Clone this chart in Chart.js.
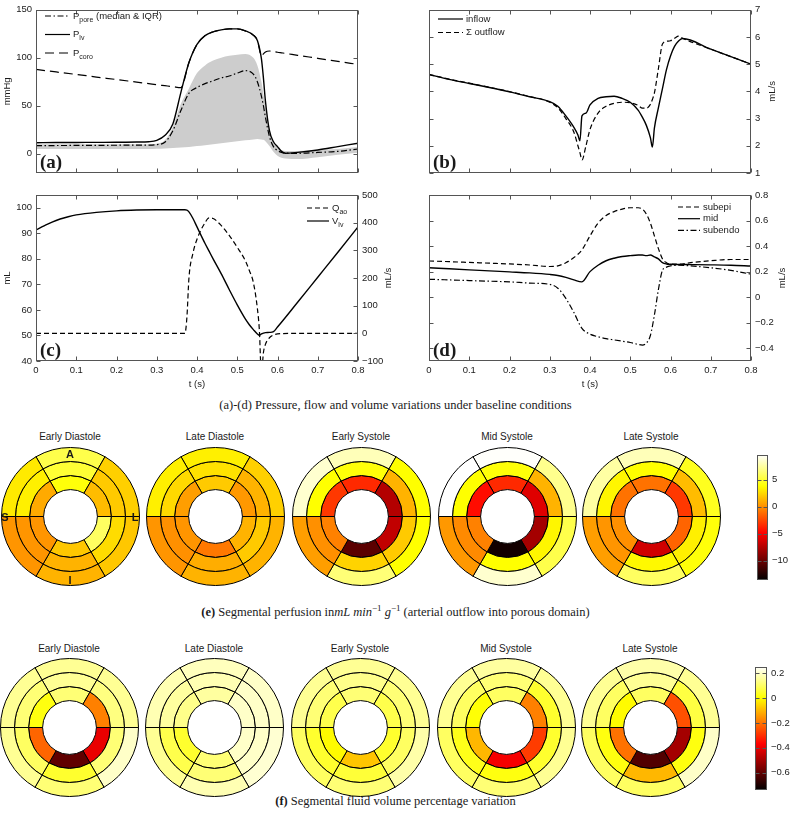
<!DOCTYPE html>
<html>
<head>
<meta charset="utf-8">
<title>Coronary perfusion figure</title>
<script src="https://cdn.jsdelivr.net/npm/chart.js@4.4.1/dist/chart.umd.min.js"></script>
<style>
  body { margin: 0; background: #fff; }
  #fig { position: relative; width: 791px; height: 822px; overflow: hidden; font-family: "Liberation Sans", Arial, sans-serif; color: #1a1a1a; }
  #fig canvas { position: absolute; }
  .cap { position: absolute; left: 0; width: 791px; text-align: center; font-family: "Liberation Serif", "Times New Roman", serif; font-size: 12.5px; line-height: 14px; }
  .cap sup { font-size: 9px; vertical-align: 5px; line-height: 0; }
  .ttl { position: absolute; width: 140px; text-align: center; font-size: 10px; line-height: 12px; }
  .lbl { position: absolute; font-size: 11px; font-weight: bold; line-height: 12px; transform: translate(-50%, -50%); }
</style>
</head>
<body>
<div id="fig">
  <canvas id="ca" width="395" height="185" style="left:0;top:0"></canvas>
  <canvas id="cb" width="396" height="185" style="left:395px;top:0"></canvas>
  <canvas id="cc" width="395" height="205" style="left:0;top:185px"></canvas>
  <canvas id="cd" width="396" height="205" style="left:395px;top:185px"></canvas>
  <div class="cap" style="top:398px">(a)-(d) Pressure, flow and volume variations under baseline conditions</div>
  <div class="cap" style="top:605px"><b>(e)</b> Segmental perfusion in<i>mL min</i><sup>−1</sup> <i>g</i><sup>−1</sup> (arterial outflow into porous domain)</div>
  <div class="cap" style="top:794px"><b>(f)</b> Segmental fluid volume percentage variation</div>
</div>
<script>
// ---- (a) pressures, mmHg
const tA = [0, 0.05, 0.1, 0.15, 0.2, 0.25, 0.28, 0.3, 0.32, 0.34, 0.36, 0.38, 0.4, 0.42, 0.44, 0.46, 0.48, 0.5, 0.52, 0.54, 0.55, 0.56, 0.565, 0.57, 0.58, 0.59, 0.6, 0.61, 0.62, 0.65, 0.7, 0.75, 0.8];
const pLv = [11.5, 11.7, 11.8, 11.9, 12, 12.2, 12.6, 14, 19, 31, 64, 95, 114, 123, 127, 129, 130, 130, 128, 123.5, 118, 99, 79, 55, 24, 12.5, 7.5, 2.5, 0.5, 1.5, 4, 7.5, 11];
const pPore = [8.5, 8.6, 8.7, 8.8, 8.9, 9, 9, 9.5, 12, 24, 45, 63, 69, 73, 76, 79, 81, 84, 86.5, 83, 75, 60, 50, 38, 18, 7.5, 3.4, 1.5, 0.7, 0.5, 1.4, 2.5, 5];
const pPoreLo = [5, 5, 5, 5, 5, 5, 5, 5.2, 5.5, 6, 6.5, 7, 8, 9, 10, 11, 12, 13, 14, 15, 15.5, 15, 14.5, 13, 8, 2, -2, -4, -5, -5.5, -3.5, -1, 1];
const pPoreHi = [10, 10, 10, 10, 10, 10, 10, 10.5, 14, 28, 52, 68, 84, 92, 97, 100, 102, 103, 104, 100, 92, 75, 62, 50, 25, 12, 7, 4, 3, 3, 4, 5, 7];
const pCoro = [87.8, 85.2, 82.6, 79.9, 77.3, 74.6, 73, 71.9, 70.9, 69.9, 68.8, 95, 114, 123, 127, 129, 130, 130, 128, 123.5, 118, 102, 104, 106, 107, 106.5, 105.7, 105.1, 104.5, 102.5, 99.4, 96.2, 93];

// ---- (b) coronary flows, mL/s
const tB = [0, 0.05, 0.1, 0.15, 0.2, 0.25, 0.3, 0.32, 0.34, 0.36, 0.37, 0.375, 0.38, 0.39, 0.4, 0.42, 0.44, 0.46, 0.48, 0.5, 0.52, 0.53, 0.54, 0.55, 0.555, 0.56, 0.57, 0.58, 0.59, 0.6, 0.61, 0.62, 0.63, 0.7, 0.8];
const inflow = [4.62, 4.44, 4.29, 4.14, 3.98, 3.8, 3.62, 3.45, 3.1, 2.68, 2.4, 2.18, 3.1, 3.2, 3.5, 3.74, 3.8, 3.82, 3.74, 3.6, 3.3, 3.05, 2.75, 2.3, 1.95, 2.65, 3.4, 4.1, 4.8, 5.3, 5.65, 5.85, 5.94, 5.55, 5.0];
const outflow = [4.62, 4.45, 4.3, 4.15, 3.99, 3.81, 3.6, 3.4, 3.0, 2.5, 2.0, 1.75, 1.48, 2.0, 2.6, 3.2, 3.45, 3.56, 3.6, 3.58, 3.48, 3.38, 3.38, 3.52, 3.7, 3.94, 4.84, 5.74, 5.84, 5.86, 5.95, 6.03, 5.95, 5.55, 5.0];

// ---- (c) LV volume (mL) and aortic flow (mL/s)
const tC = [0, 0.02, 0.04, 0.06, 0.08, 0.1, 0.15, 0.2, 0.25, 0.3, 0.35, 0.37, 0.375, 0.38, 0.39, 0.4, 0.42, 0.43, 0.44, 0.46, 0.48, 0.5, 0.52, 0.53, 0.54, 0.55, 0.555, 0.56, 0.565, 0.57, 0.58, 0.59, 0.6, 0.65, 0.7, 0.75, 0.8];
const vLv = [91.3, 92.9, 94.4, 95.6, 96.5, 97.2, 98.2, 98.8, 99.1, 99.2, 99.2, 99.2, 99.1, 98.4, 95.8, 92.5, 86, 83, 80, 74.2, 68, 62, 56.5, 54.2, 52.3, 50.6, 50.1, 50.6, 50.9, 51.1, 51.2, 51.5, 53.3, 63, 72.8, 82.6, 92.5];
const qAo = [0, 0, 0, 0, 0, 0, 0, 0, 0, 0, 0, 0, 60, 200, 290, 340, 400, 417, 415, 390, 354, 311, 263, 227, 184, 90, 10, -150, -70, -40, -16, -6, -2, 0, 0, 0, 0];

// ---- (d) layer flows, mL/s
const tD = [0, 0.05, 0.1, 0.15, 0.2, 0.25, 0.3, 0.32, 0.34, 0.36, 0.38, 0.4, 0.42, 0.44, 0.46, 0.48, 0.5, 0.52, 0.53, 0.54, 0.55, 0.56, 0.57, 0.58, 0.59, 0.6, 0.62, 0.65, 0.7, 0.75, 0.8];
const subepi = [0.283, 0.278, 0.272, 0.266, 0.26, 0.252, 0.24, 0.245, 0.27, 0.31, 0.37, 0.48, 0.58, 0.64, 0.67, 0.69, 0.7, 0.7, 0.69, 0.65, 0.58, 0.48, 0.38, 0.3, 0.27, 0.258, 0.258, 0.27, 0.285, 0.295, 0.295];
const midLayer = [0.23, 0.222, 0.214, 0.206, 0.198, 0.19, 0.178, 0.17, 0.155, 0.135, 0.12, 0.2, 0.25, 0.285, 0.305, 0.318, 0.325, 0.33, 0.33, 0.325, 0.33, 0.315, 0.3, 0.27, 0.26, 0.258, 0.256, 0.255, 0.253, 0.25, 0.244];
const subendo = [0.14, 0.135, 0.13, 0.125, 0.12, 0.11, 0.1, 0.07, -0.01, -0.12, -0.245, -0.29, -0.31, -0.325, -0.335, -0.345, -0.355, -0.37, -0.375, -0.36, -0.3, -0.14, 0.06, 0.21, 0.235, 0.245, 0.25, 0.245, 0.23, 0.21, 0.18];

// ---- tick labels
const tTicks = [0, 0.1, 0.2, 0.3, 0.4, 0.5, 0.6, 0.7, 0.8];
const aTicks = [0, 50, 100, 150];
const bTicks = [1, 2, 3, 4, 5, 6, 7];
const cTicksL = [40, 50, 60, 70, 80, 90, 100];
const cTicksR = [-100, 0, 100, 200, 300, 400, 500];
const dTicks = [-0.4, -0.2, 0, 0.2, 0.4, 0.6, 0.8];

// ---- bull's-eye maps: rings outer, mid, inner; segments clockwise from anterior (top)
const phases = ['Early Diastole', 'Late Diastole', 'Early Systole', 'Mid Systole', 'Late Systole'];
const perfRange = [-13.6, 9.6];
const perfTicks = [5, 0, -5, -10];
const perfEarlyDia = [[5.5, 2.2, 1.9, 1.2, 0.2, 3.1], [5.0, 2.0, 2.6, 1.2, 0.2, 3.3], [4.0, 1.5, 6.0, 1.9, 0.2, 0.9]];
const perfLateDia = [[3.3, 2.2, 1.2, 1.2, 0.2, 3.3], [2.8, 1.2, 2.0, 1.0, 0.0, 2.5], [2.0, 0.3, 1.2, -0.8, 0.2, 0.5]];
const perfEarlySys = [[8.0, 3.8, 3.8, 6.5, 0.5, 8.5], [4.0, 1.2, 2.0, 2.3, 0.0, 3.8], [-3.5, -7.5, -7.0, -10.5, -0.5, -3.0]];
const perfMidSys = [[9.5, 7.0, 5.5, 8.5, 0.3, 9.6], [4.0, 1.2, 3.5, 3.8, -0.2, 3.8], [-3.5, -6.0, -8.0, -13.0, -0.5, -4.5]];
const perfLateSys = [[8.0, 4.5, 4.0, 6.0, 0.5, 7.5], [3.8, 1.5, 3.3, 3.6, 0.2, 3.5], [-1.0, -3.0, -1.5, -6.5, 0.0, -1.0]];

const volRange = [-0.74, 0.254];
const volTicks = [0.2, 0, -0.2, -0.4, -0.6];
const volEarlyDia = [[0.15, 0.15, 0.2, 0.12, 0.15, 0.15], [0.15, 0.13, 0.12, 0.05, 0.1, 0.12], [0.12, -0.18, -0.4, -0.6, -0.22, 0.02]];
const volLateDia = [[0.19, 0.2, 0.21, 0.18, 0.15, 0.18], [0.18, 0.2, 0.2, 0.12, 0.08, 0.16], [0.16, 0.2, 0.2, 0.12, 0.05, 0.14]];
const volEarlySys = [[0.15, 0.15, 0.17, 0.12, 0.1, 0.15], [0.14, 0.12, 0.1, 0.06, 0.05, 0.12], [0.12, 0.08, 0.05, -0.08, 0.0, 0.08]];
const volMidSys = [[0.16, 0.15, 0.15, 0.12, 0.1, 0.15], [0.12, 0.05, 0.05, 0.02, 0.03, 0.1], [0.1, -0.18, -0.28, -0.38, -0.1, 0.01]];
const volLateSys = [[0.17, 0.15, 0.2, 0.1, 0.1, 0.15], [0.15, 0.07, 0.02, -0.1, 0.02, 0.1], [0.1, -0.25, -0.5, -0.62, -0.2, 0.0]];

const INK = '#1a1a1a';
const SANS = '"Liberation Sans", Arial, sans-serif';
const FONT = { family: SANS, size: 9.5 };
const DASH = [5, 3];
const LONGDASH = [9, 5];
const DASHDOT = [6, 2.5, 1.5, 2.5];

function xy(t, v) { return t.map((x, i) => ({ x: x, y: v[i] })); }
function fmt(v) { return String(Math.round(v * 100) / 100).replace('-', '\u2212'); }
function fixed(list) { return s => { s.ticks = list.map(v => ({ value: v })); }; }

function timeAxis(labels, h) {
  return {
    type: 'linear', min: 0, max: 0.8, afterBuildTicks: fixed(tTicks),
    grid: { display: false, drawTicks: false }, border: { display: false },
    ticks: { display: labels, font: FONT, color: INK, padding: 4, callback: fmt, maxRotation: 0, autoSkip: false },
    title: { display: labels, text: 't (s)', font: FONT, color: INK, padding: 0 },
    afterFit: s => { s.height = h; }
  };
}
function valueAxis(pos, min, max, list, w, title) {
  return {
    type: 'linear', position: pos, min: min, max: max, afterBuildTicks: fixed(list),
    grid: { display: false, drawTicks: false }, border: { display: false },
    ticks: { font: FONT, color: INK, padding: 4, callback: fmt, autoSkip: false },
    title: { display: !!title, text: title || '', font: FONT, color: INK, padding: { top: 2, bottom: 0 } },
    afterFit: s => { s.width = w; }
  };
}

// box, inward ticks, legend, panel tag, right-hand axis title
const frame = {
  id: 'frame',
  afterDraw(chart, args, o) {
    const ctx = chart.ctx, a = chart.chartArea;
    const L = 4;
    const seg = (x1, y1, x2, y2) => { ctx.beginPath(); ctx.moveTo(x1, y1); ctx.lineTo(x2, y2); ctx.stroke(); };
    ctx.save();
    ctx.strokeStyle = '#555';
    ctx.lineWidth = 1;
    const l = Math.round(a.left) + 0.5, r = Math.round(a.right) - 0.5, t = Math.round(a.top) + 0.5, b = Math.round(a.bottom) - 0.5;
    ctx.strokeRect(l, t, r - l, b - t);
    if (!o.noX) {
      const xs = chart.scales.x;
      xs.ticks.forEach(tk => {
        const px = Math.round(xs.getPixelForValue(tk.value)) + 0.5;
        seg(px, b, px, b - L); seg(px, t, px, t + L);
      });
    }
    const ys = Object.values(chart.scales).filter(s => s.axis === 'y');
    ys.forEach(s => {
      const sides = ys.length > 1 ? [s.position] : ['left', 'right'];
      s.ticks.forEach(tk => {
        const py = Math.round(s.getPixelForValue(tk.value)) + 0.5;
        sides.forEach(side => side === 'left' ? seg(l, py, l + L, py) : seg(r, py, r - L, py));
      });
    });
    ctx.fillStyle = INK;
    if (o.rightTitle) {
      ctx.save();
      ctx.translate(o.rightTitle.x, (a.top + a.bottom) / 2);
      ctx.rotate(-Math.PI / 2);
      ctx.font = '9.5px ' + SANS;
      ctx.textAlign = 'center'; ctx.textBaseline = 'middle';
      ctx.fillText(o.rightTitle.text, 0, 0);
      ctx.restore();
    }
    if (o.legend) {
      const g = o.legend;
      ctx.strokeStyle = '#000';
      ctx.lineWidth = 1.2;
      ctx.textBaseline = 'middle';
      g.items.forEach((it, i) => {
        const y = g.y + i * g.dy;
        ctx.setLineDash(it.dash || []);
        seg(g.x, y, g.x + g.len, y);
        ctx.setLineDash([]);
        let x = g.x + g.len + 3;
        ctx.font = '9.5px ' + SANS;
        ctx.fillText(it.main, x, y);
        x += ctx.measureText(it.main).width;
        if (it.sub) {
          ctx.font = '7px ' + SANS;
          ctx.fillText(it.sub, x, y + 4);
          x += ctx.measureText(it.sub).width;
        }
        if (it.tail) {
          ctx.font = '9.5px ' + SANS;
          ctx.fillText(it.tail, x, y);
        }
      });
    }
    if (o.tag) {
      ctx.font = 'bold 19px "Liberation Serif", "Times New Roman", serif';
      ctx.textBaseline = 'alphabetic';
      ctx.fillText(o.tag, a.left + 4, a.bottom - 5);
    }
    ctx.restore();
  }
};

function lineChart(id, datasets, scales, pad, frameOpts) {
  return new Chart(document.getElementById(id), {
    type: 'line',
    data: { datasets: datasets },
    options: {
      responsive: false, animation: false, events: [],
      layout: { padding: pad },
      elements: { point: { radius: 0 }, line: { cubicInterpolationMode: 'monotone', borderWidth: 1.2, fill: false } },
      scales: scales,
      plugins: { legend: { display: false }, tooltip: { enabled: false }, frame: frameOpts }
    },
    plugins: [frame]
  });
}

// (a)
lineChart('ca', [
  { data: xy(tA, pPore), borderColor: '#000', borderDash: DASHDOT, order: 1 },
  { data: xy(tA, pLv), borderColor: '#000', borderWidth: 1.4, order: 2 },
  { data: xy(tA, pCoro), borderColor: '#000', borderDash: LONGDASH, order: 3 },
  { data: xy(tA, pPoreLo), borderWidth: 0, borderColor: 'rgba(0,0,0,0)', order: 10 },
  { data: xy(tA, pPoreHi), borderWidth: 0, borderColor: 'rgba(0,0,0,0)', backgroundColor: '#cdcdcd', fill: '-1', order: 9 }
], {
  x: timeAxis(false, 12),
  y: valueAxis('left', -20, 150, aTicks, 36, 'mmHg')
}, { top: 7, right: 37, bottom: 0, left: 0 }, {
  tag: '(a)',
  legend: { x: 45, y: 16, dy: 18.5, len: 25, items: [
    { main: 'P', sub: 'pore', tail: ' (median & IQR)', dash: DASHDOT },
    { main: 'P', sub: 'lv' },
    { main: 'P', sub: 'coro', dash: LONGDASH }
  ] }
});

// (b)
lineChart('cb', [
  { data: xy(tB, inflow), borderColor: '#000', borderWidth: 1.4 },
  { data: xy(tB, outflow), borderColor: '#000', borderDash: DASH }
], {
  x: timeAxis(false, 12),
  y: valueAxis('right', 1, 7, bTicks, 40)
}, { top: 7, right: 0, bottom: 0, left: 34 }, {
  tag: '(b)',
  rightTitle: { text: 'mL/s', x: 377 },
  legend: { x: 43, y: 19, dy: 13.5, len: 25, items: [
    { main: 'inflow' },
    { main: '\u03A3 outflow', dash: DASH }
  ] }
});

// (c)
lineChart('cc', [
  { data: xy(tC, qAo), borderColor: '#000', borderDash: DASH, yAxisID: 'y2' },
  { data: xy(tC, vLv), borderColor: '#000', borderWidth: 1.4, yAxisID: 'y' }
], {
  x: timeAxis(true, 29),
  y: valueAxis('left', 40, 105, cTicksL, 36, 'mL'),
  y2: valueAxis('right', -100, 500, cTicksR, 37)
}, { top: 10, right: 0, bottom: 0, left: 0 }, {
  tag: '(c)',
  rightTitle: { text: 'mL/s', x: 388 },
  legend: { x: 307, y: 23, dy: 13, len: 22, items: [
    { main: 'Q', sub: 'ao', dash: DASH },
    { main: 'V', sub: 'lv' }
  ] }
});

// (d)
lineChart('cd', [
  { data: xy(tD, subepi), borderColor: '#000', borderDash: DASH },
  { data: xy(tD, midLayer), borderColor: '#000', borderWidth: 1.4 },
  { data: xy(tD, subendo), borderColor: '#000', borderDash: DASHDOT }
], {
  x: timeAxis(true, 29),
  y: valueAxis('right', -0.5, 0.8, dTicks, 40)
}, { top: 10, right: 0, bottom: 0, left: 34 }, {
  tag: '(d)',
  rightTitle: { text: 'mL/s', x: 387 },
  legend: { x: 283, y: 22, dy: 11.7, len: 22, items: [
    { main: 'subepi', dash: DASH },
    { main: 'mid' },
    { main: 'subendo', dash: DASHDOT }
  ] }
});

// ---- bull's-eyes
function hot(f) {
  f = Math.max(0, Math.min(1, f));
  const r = Math.min(1, f / 0.375);
  const g = Math.max(0, Math.min(1, (f - 0.375) / 0.375));
  const b = Math.max(0, (f - 0.75) / 0.25);
  return 'rgb(' + Math.round(r * 255) + ',' + Math.round(g * 255) + ',' + Math.round(b * 255) + ')';
}

const fig = document.getElementById('fig');
const centersX = [70, 215, 361, 507, 651];
const segNames = ['anterior', 'anterolateral', 'inferolateral', 'inferior', 'inferoseptal', 'anteroseptal'];

function addDiv(cls, text, css) {
  const d = document.createElement('div');
  d.className = cls;
  d.textContent = text;
  Object.assign(d.style, css);
  fig.appendChild(d);
}

function bullseye(cx, cy, rings, range) {
  const cv = document.createElement('canvas');
  cv.width = 139; cv.height = 139;
  cv.style.left = (cx - 69.5) + 'px';
  cv.style.top = (cy - 69.5) + 'px';
  fig.appendChild(cv);
  new Chart(cv, {
    type: 'doughnut',
    data: {
      labels: segNames,
      datasets: rings.map(vals => ({
        data: vals.map(() => 1),
        backgroundColor: vals.map(v => hot((v - range[0]) / (range[1] - range[0]))),
        borderColor: '#000',
        borderWidth: 1
      }))
    },
    options: {
      responsive: false, animation: false, events: [],
      rotation: -30, cutout: '39%',
      layout: { padding: 0 },
      plugins: { legend: { display: false }, tooltip: { enabled: false } }
    }
  });
}

function colorbar(left, top, w, h, pad, axisW, range, ticks) {
  const cv = document.createElement('canvas');
  cv.width = w; cv.height = h;
  cv.style.left = left + 'px';
  cv.style.top = top + 'px';
  fig.appendChild(cv);
  new Chart(cv, {
    type: 'bar',
    data: {
      labels: [''],
      datasets: [{
        data: [range],
        borderWidth: 0,
        barPercentage: 1, categoryPercentage: 1,
        backgroundColor: c => {
          const a = c.chart.chartArea;
          if (!a) return '#fff';
          const g = c.chart.ctx.createLinearGradient(0, a.bottom, 0, a.top);
          for (let i = 0; i <= 32; i++) g.addColorStop(i / 32, hot(i / 32));
          return g;
        }
      }]
    },
    options: {
      responsive: false, animation: false, events: [],
      layout: { padding: pad },
      scales: {
        x: { display: false },
        y: valueAxis('right', range[0], range[1], ticks, axisW)
      },
      plugins: { legend: { display: false }, tooltip: { enabled: false }, frame: { noX: true } }
    },
    plugins: [frame]
  });
}

const perfMaps = [perfEarlyDia, perfLateDia, perfEarlySys, perfMidSys, perfLateSys];
const volMaps = [volEarlyDia, volLateDia, volEarlySys, volMidSys, volLateSys];

phases.forEach((name, i) => {
  addDiv('ttl', name, { left: (centersX[i] - 70) + 'px', top: '431px' });
  bullseye(centersX[i], 516.5, perfMaps[i], perfRange);
  addDiv('ttl', name, { left: (centersX[i] - 71) + 'px', top: '643px' });
  bullseye(centersX[i] - 1, 727.5, volMaps[i], volRange);
});

addDiv('lbl', 'A', { left: '70px', top: '454px' });
addDiv('lbl', 'S', { left: '5px', top: '517px' });
addDiv('lbl', 'L', { left: '135px', top: '517px' });
addDiv('lbl', 'I', { left: '70px', top: '580px' });

colorbar(745, 445, 46, 145, { left: 12, top: 9, bottom: 10, right: 0 }, 23, perfRange, perfTicks);
colorbar(743, 657, 48, 145, { left: 12, top: 9, bottom: 12, right: 0 }, 24, volRange, volTicks);
</script>
</body>
</html>
